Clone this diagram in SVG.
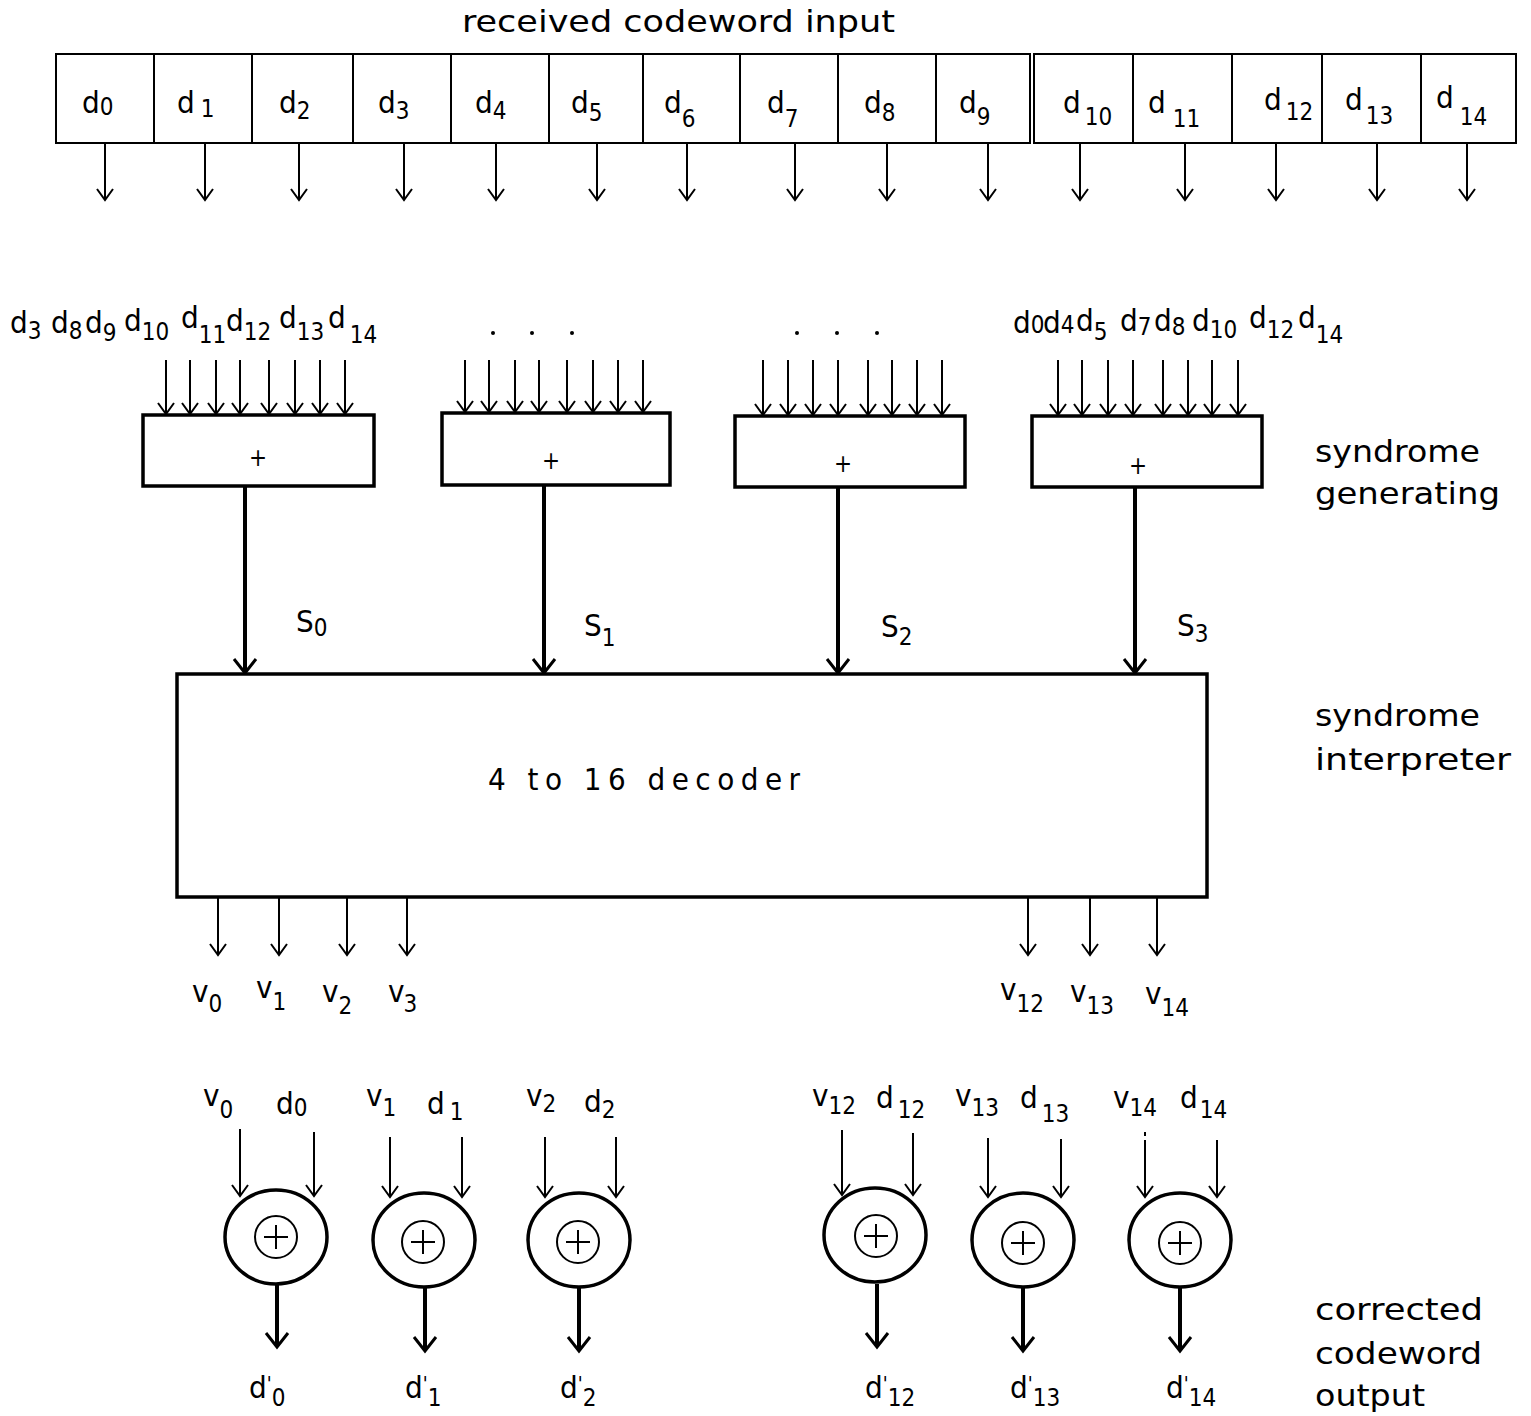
<svg xmlns="http://www.w3.org/2000/svg" width="1531" height="1416" viewBox="0 0 1531 1416">
<style>
text{font-family:"DejaVu Sans Condensed","DejaVu Sans","Liberation Sans",sans-serif;fill:#000}
.t{font-size:31px}
.d{font-size:31px}
.s{font-size:24px}
.p{font-size:20px}
.box{fill:#fff;stroke:#000;stroke-width:2}
.tb{fill:#fff;stroke:#000;stroke-width:3.5}
.a{stroke:#000;stroke-width:2;fill:none}
.ab{stroke:#000;stroke-width:4;fill:none}
</style>
<defs>
<marker id="v" markerUnits="userSpaceOnUse" markerWidth="24" markerHeight="24" viewBox="-12 -12 24 24" refX="0" refY="0" orient="auto"><path d="M-11,-8 L0,0 L-11,8" fill="none" stroke="#000" stroke-width="2"/></marker>
<marker id="vb" markerUnits="userSpaceOnUse" markerWidth="32" markerHeight="32" viewBox="-16 -16 32 32" refX="0" refY="0" orient="auto"><path d="M-14,-11 L0,0 L-14,11" fill="none" stroke="#000" stroke-width="3"/></marker>
</defs>
<rect width="1531" height="1416" fill="#fff"/>

<text class="t" x="462" y="32" textLength="433" lengthAdjust="spacingAndGlyphs">received codeword input</text>

<g id="register">
<rect class="box" x="56" y="54" width="974" height="89"/>
<rect class="box" x="1034" y="54" width="482" height="89"/>
<path class="a" d="M154,54V143M252,54V143M353,54V143M451,54V143M549,54V143M643,54V143M740,54V143M838,54V143M936,54V143M1133,54V143M1232,54V143M1322,54V143M1421,54V143"/>
<text class="d" x="82" y="113">d<tspan class="s" dy="2">0</tspan></text>
<text class="d" x="177" y="113">d<tspan class="s" dx="6" dy="4">1</tspan></text>
<text class="d" x="279" y="113">d<tspan class="s" dy="6">2</tspan></text>
<text class="d" x="378" y="113">d<tspan class="s" dy="6">3</tspan></text>
<text class="d" x="475" y="113">d<tspan class="s" dy="6">4</tspan></text>
<text class="d" x="571" y="113">d<tspan class="s" dy="8">5</tspan></text>
<text class="d" x="664" y="113">d<tspan class="s" dy="14">6</tspan></text>
<text class="d" x="767" y="113">d<tspan class="s" dy="14">7</tspan></text>
<text class="d" x="864" y="113">d<tspan class="s" dy="8">8</tspan></text>
<text class="d" x="959" y="113">d<tspan class="s" dy="12">9</tspan></text>
<text class="d" x="1063" y="113">d<tspan class="s" dx="4" dy="12">10</tspan></text>
<text class="d" x="1148" y="113">d<tspan class="s" dx="7" dy="14">11</tspan></text>
<text class="d" x="1264" y="110">d<tspan class="s" dx="4" dy="10">12</tspan></text>
<text class="d" x="1345" y="110">d<tspan class="s" dx="3" dy="14">13</tspan></text>
<text class="d" x="1436" y="108">d<tspan class="s" dx="6" dy="17">14</tspan></text>
</g>

<g id="connectors">
<g marker-end="url(#v)" class="a">
<path d="M105,143V200"/><path d="M205,143V200"/><path d="M299,143V200"/><path d="M404,143V200"/><path d="M496,143V200"/><path d="M597,143V200"/><path d="M687,143V200"/><path d="M795,143V200"/><path d="M887,143V200"/><path d="M988,143V200"/><path d="M1080,143V200"/><path d="M1185,143V200"/><path d="M1276,143V200"/><path d="M1377,143V200"/><path d="M1467,143V200"/>
<path d="M166,360V414"/><path d="M190,360V414"/><path d="M216,360V414"/><path d="M240,360V414"/><path d="M269,360V414"/><path d="M295,360V414"/><path d="M320,360V414"/><path d="M345,360V414"/>
<path d="M465,360V412"/><path d="M489,360V412"/><path d="M515,360V412"/><path d="M539,360V412"/><path d="M567,360V412"/><path d="M593,360V412"/><path d="M618,360V412"/><path d="M643,360V412"/>
<path d="M763,360V415"/><path d="M788,360V415"/><path d="M813,360V415"/><path d="M838,360V415"/><path d="M868,360V415"/><path d="M892,360V415"/><path d="M917,360V415"/><path d="M942,360V415"/>
<path d="M1058,360V415"/><path d="M1082,360V415"/><path d="M1108,360V415"/><path d="M1133,360V415"/><path d="M1163,360V415"/><path d="M1188,360V415"/><path d="M1212,360V415"/><path d="M1238,360V415"/>
<path d="M218,897V955"/><path d="M279,897V955"/><path d="M347,897V955"/><path d="M407,897V955"/><path d="M1028,897V955"/><path d="M1090,897V955"/><path d="M1157,897V955"/>
<path d="M240,1129V1196"/><path d="M314,1132V1196"/>
<path d="M390,1137V1197"/><path d="M462,1137V1197"/>
<path d="M545,1137V1197"/><path d="M616,1137V1197"/>
<path d="M842,1130V1195"/><path d="M913,1133V1195"/>
<path d="M988,1138V1197"/><path d="M1061,1139V1197"/>
<path d="M1145,1140V1197"/><path d="M1217,1140V1197"/>
</g>
<path class="a" d="M1145,1132V1136"/>
<g marker-end="url(#vb)" class="ab">
<path d="M245,486V673"/><path d="M544,485V673"/><path d="M838,487V673"/><path d="M1135,487V673"/>
<path d="M277,1284V1347"/><path d="M425,1286V1351"/><path d="M579,1286V1351"/><path d="M877,1284V1347"/><path d="M1023,1286V1351"/><path d="M1180,1286V1351"/>
</g>
</g>

<g id="gen-labels">
<text class="d" x="10" y="333">d<tspan class="s" dy="6">3</tspan></text>
<text class="d" x="51" y="333">d<tspan class="s" dy="6">8</tspan></text>
<text class="d" x="85" y="333">d<tspan class="s" dy="8">9</tspan></text>
<text class="d" x="124" y="331">d<tspan class="s" dy="9">10</tspan></text>
<text class="d" x="181" y="328">d<tspan class="s" dy="15">11</tspan></text>
<text class="d" x="226" y="331">d<tspan class="s" dy="9">12</tspan></text>
<text class="d" x="279" y="328">d<tspan class="s" dy="12">13</tspan></text>
<text class="d" x="328" y="328">d<tspan class="s" dx="4" dy="15">14</tspan></text>
<text class="d" x="1013" y="333">d<tspan class="s" dy="0">0</tspan></text>
<text class="d" x="1043" y="333">d<tspan class="s" dy="0">4</tspan></text>
<text class="d" x="1076" y="331">d<tspan class="s" dy="9">5</tspan></text>
<text class="d" x="1120" y="331">d<tspan class="s" dy="4">7</tspan></text>
<text class="d" x="1154" y="331">d<tspan class="s" dy="4">8</tspan></text>
<text class="d" x="1192" y="331">d<tspan class="s" dy="7">10</tspan></text>
<text class="d" x="1249" y="328">d<tspan class="s" dy="10">12</tspan></text>
<text class="d" x="1298" y="328">d<tspan class="s" dy="15">14</tspan></text>
<g fill="#000"><circle cx="493" cy="333" r="2"/><circle cx="532" cy="333" r="2"/><circle cx="572" cy="333" r="2"/><circle cx="797" cy="333" r="2"/><circle cx="837" cy="333" r="2"/><circle cx="877" cy="333" r="2"/></g>
</g>

<g id="gen0"><rect class="tb" x="143" y="415" width="231" height="71"/><text class="s" x="258" y="466" text-anchor="middle">+</text></g>
<g id="gen1"><rect class="tb" x="442" y="413" width="228" height="72"/><text class="s" x="551" y="469" text-anchor="middle">+</text></g>
<g id="gen2"><rect class="tb" x="735" y="416" width="230" height="71"/><text class="s" x="843" y="472" text-anchor="middle">+</text></g>
<g id="gen3"><rect class="tb" x="1032" y="416" width="230" height="71"/><text class="s" x="1138" y="474" text-anchor="middle">+</text></g>

<g id="s-labels">
<text class="d" x="296" y="632">S<tspan class="s" dy="4">0</tspan></text>
<text class="d" x="584" y="636">S<tspan class="s" dy="10">1</tspan></text>
<text class="d" x="881" y="637">S<tspan class="s" dy="8">2</tspan></text>
<text class="d" x="1177" y="636">S<tspan class="s" dy="6">3</tspan></text>
</g>

<g id="side-labels">
<text class="t" x="1315" y="462" textLength="165" lengthAdjust="spacingAndGlyphs">syndrome</text>
<text class="t" x="1315" y="504" textLength="185" lengthAdjust="spacingAndGlyphs">generating</text>
<text class="t" x="1315" y="726" textLength="165" lengthAdjust="spacingAndGlyphs">syndrome</text>
<text class="t" x="1315" y="770" textLength="196" lengthAdjust="spacingAndGlyphs">interpreter</text>
<text class="t" x="1315" y="1320" textLength="168" lengthAdjust="spacingAndGlyphs">corrected</text>
<text class="t" x="1315" y="1364" textLength="167" lengthAdjust="spacingAndGlyphs">codeword</text>
<text class="t" x="1315" y="1406" textLength="110" lengthAdjust="spacingAndGlyphs">output</text>
</g>

<g id="decoder">
<rect class="tb" x="177" y="674" width="1030" height="223"/>
<text class="t" x="488" y="790" textLength="312" lengthAdjust="spacing">4 to 16 decoder</text>
</g>

<g id="v-labels">
<text class="d" x="192" y="1002">v<tspan class="s" dy="10">0</tspan></text>
<text class="d" x="256" y="998">v<tspan class="s" dy="12">1</tspan></text>
<text class="d" x="322" y="1002">v<tspan class="s" dy="12">2</tspan></text>
<text class="d" x="388" y="1002">v<tspan class="s" dx="-1" dy="10">3</tspan></text>
<text class="d" x="1000" y="1000">v<tspan class="s" dy="12">12</tspan></text>
<text class="d" x="1070" y="1002">v<tspan class="s" dy="12">13</tspan></text>
<text class="d" x="1145" y="1004">v<tspan class="s" dy="12">14</tspan></text>
</g>

<g id="xor0">
<ellipse class="tb" cx="276" cy="1237" rx="51" ry="47" stroke-width="5"/>
<circle class="box" cx="276" cy="1237" r="21"/><path class="a" d="M264,1237H288M276,1225V1249"/>
<text class="d" x="203" y="1106">v<tspan class="s" dy="12">0</tspan></text>
<text class="d" x="276" y="1114">d<tspan class="s" dy="2">0</tspan></text>
<text class="d" x="249" y="1398">d<tspan class="p" dy="-8">'</tspan><tspan class="s" dy="16">0</tspan></text>
</g>
<g id="xor1">
<ellipse class="tb" cx="424" cy="1240" rx="51" ry="47" stroke-width="5"/>
<circle class="box" cx="423" cy="1242" r="21"/><path class="a" d="M411,1242H435M423,1230V1254"/>
<text class="d" x="366" y="1106">v<tspan class="s" dy="10">1</tspan></text>
<text class="d" x="427" y="1114">d<tspan class="s" dx="5" dy="6">1</tspan></text>
<text class="d" x="405" y="1398">d<tspan class="p" dy="-8">'</tspan><tspan class="s" dy="16">1</tspan></text>
</g>
<g id="xor2">
<ellipse class="tb" cx="579" cy="1240" rx="51" ry="47" stroke-width="5"/>
<circle class="box" cx="578" cy="1242" r="21"/><path class="a" d="M566,1242H590M578,1230V1254"/>
<text class="d" x="526" y="1106">v<tspan class="s" dy="6">2</tspan></text>
<text class="d" x="584" y="1112">d<tspan class="s" dy="6">2</tspan></text>
<text class="d" x="560" y="1398">d<tspan class="p" dy="-8">'</tspan><tspan class="s" dy="16">2</tspan></text>
</g>
<g id="xor12">
<ellipse class="tb" cx="875" cy="1235" rx="51" ry="47" stroke-width="5"/>
<circle class="box" cx="876" cy="1236" r="21"/><path class="a" d="M864,1236H888M876,1224V1248"/>
<text class="d" x="812" y="1106">v<tspan class="s" dy="8">12</tspan></text>
<text class="d" x="876" y="1108">d<tspan class="s" dx="4" dy="10">12</tspan></text>
<text class="d" x="865" y="1398">d<tspan class="p" dy="-8">'</tspan><tspan class="s" dy="16">12</tspan></text>
</g>
<g id="xor13">
<ellipse class="tb" cx="1023" cy="1240" rx="51" ry="47" stroke-width="5"/>
<circle class="box" cx="1023" cy="1243" r="21"/><path class="a" d="M1011,1243H1035M1023,1231V1255"/>
<text class="d" x="955" y="1106">v<tspan class="s" dy="10">13</tspan></text>
<text class="d" x="1020" y="1108">d<tspan class="s" dx="4" dy="14">13</tspan></text>
<text class="d" x="1010" y="1398">d<tspan class="p" dy="-8">'</tspan><tspan class="s" dy="16">13</tspan></text>
</g>
<g id="xor14">
<ellipse class="tb" cx="1180" cy="1240" rx="51" ry="47" stroke-width="5"/>
<circle class="box" cx="1180" cy="1243" r="21"/><path class="a" d="M1168,1243H1192M1180,1231V1255"/>
<text class="d" x="1113" y="1108">v<tspan class="s" dy="8">14</tspan></text>
<text class="d" x="1180" y="1108">d<tspan class="s" dx="2" dy="10">14</tspan></text>
<text class="d" x="1166" y="1398">d<tspan class="p" dy="-8">'</tspan><tspan class="s" dy="16">14</tspan></text>
</g>
</svg>
